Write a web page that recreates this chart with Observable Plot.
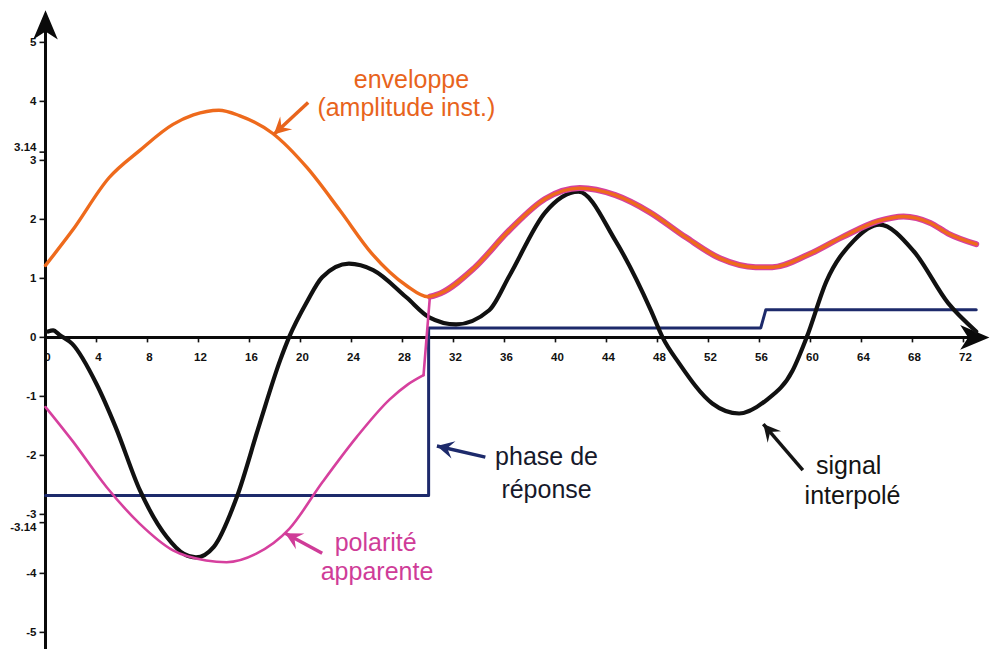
<!DOCTYPE html>
<html>
<head>
<meta charset="utf-8">
<script src="https://cdn.jsdelivr.net/npm/d3@7"></script>
<script src="https://cdn.jsdelivr.net/npm/@observablehq/plot@0.6"></script>
<style>
  html, body { margin: 0; padding: 0; background: #ffffff; }
  #chart svg { display: block; }
</style>
</head>
<body>
<div id="chart"></div>
<script>
// ---- data ----
const envX = [0, 2.1, 5.0, 7.4, 10.0, 11.6, 13.6, 15.2, 17.8, 20.5, 23.1, 25.6, 28.3, 30.0, 31.0, 33.6, 36.4, 39.2, 41.9, 44.7, 47.4, 50.2, 52.9, 55.7, 57.0, 59.8, 62.5, 65.3, 67.3, 69.4, 70.8, 73.0];
const envY = [1.22, 1.81, 2.71, 3.17, 3.61, 3.77, 3.85, 3.76, 3.46, 2.88, 2.15, 1.42, 0.88, 0.69, 0.75, 1.17, 1.82, 2.35, 2.53, 2.41, 2.12, 1.70, 1.34, 1.19, 1.19, 1.40, 1.70, 1.97, 2.05, 1.94, 1.76, 1.58];

const polX = [0, 2.1, 4.8, 7.4, 10.0, 12.6, 14.2, 16.5, 19.1, 21.7, 24.4, 27.0, 28.4, 29.65, 30.15, 31.0, 33.6, 36.4, 39.2, 41.9, 44.7, 47.4, 50.2, 52.9, 55.7, 57.0, 59.8, 62.5, 65.3, 67.3, 69.4, 70.8, 73.0];
const polY = [-1.18, -1.75, -2.54, -3.16, -3.61, -3.78, -3.81, -3.67, -3.25, -2.46, -1.69, -1.05, -0.80, -0.64, 0.69, 0.75, 1.17, 1.82, 2.35, 2.53, 2.41, 2.12, 1.70, 1.34, 1.19, 1.19, 1.40, 1.70, 1.97, 2.05, 1.94, 1.76, 1.58];

const sigX = [0.2, 0.6, 1.1, 2.1, 4.0, 5.5, 7.4, 9.5, 10.85, 11.8, 13.2, 15.0, 16.8, 18.4, 19.1, 20.5, 21.7, 23.8, 25.7, 28.3, 30.1, 32.2, 34.8, 36.4, 39.2, 41.8, 44.7, 47.5, 48.4, 49.7, 52.3, 54.4, 56.5, 58.6, 59.7, 61.25, 63.4, 65.4, 68.1, 70.8, 73.0];
const sigY = [0.10, 0.12, 0.04, -0.11, -0.79, -1.52, -2.59, -3.38, -3.67, -3.73, -3.55, -2.71, -1.46, -0.39, 0, 0.60, 1.02, 1.25, 1.14, 0.68, 0.34, 0.22, 0.46, 1.05, 2.12, 2.47, 1.64, 0.45, 0, -0.44, -1.12, -1.29, -1.07, -0.56, 0, 0.95, 1.64, 1.91, 1.46, 0.58, 0.10];

const phaseX = [0, 30.05, 30.05, 56.1, 56.5, 73.0];
const phaseY = [-2.68, -2.68, 0.16, 0.16, 0.47, 0.47];

const xTicks = [0, 4, 8, 12, 16, 20, 24, 28, 32, 36, 40, 44, 48, 52, 56, 60, 64, 68, 72];
const yTicks = [5, 4, 3, 2, 1, 0, -1, -2, -3, -4, -5];
const piTicks = [3.14, -3.14];
const piLabels = ["3.14", "-3.14"];

const notes = [
  {x: 28.7, y: 4.36, text: "enveloppe", color: "#e8641c"},
  {x: 28.3, y: 3.88, text: "(amplitude inst.)", color: "#e8641c"},
  {x: 39.3, y: -2.03, text: "phase de", color: "#17192b"},
  {x: 39.3, y: -2.58, text: "réponse", color: "#17192b"},
  {x: 63.0, y: -2.18, text: "signal", color: "#141414"},
  {x: 63.3, y: -2.68, text: "interpolé", color: "#141414"},
  {x: 25.9, y: -3.49, text: "polarité", color: "#cf3c98"},
  {x: 26.0, y: -3.98, text: "apparente", color: "#cf3c98"}
];
const pointers = [
  {x1: 20.6, y1: 3.98, x2: 17.9, y2: 3.44, color: "#e8641c"},
  {x1: 34.5, y1: -2.03, x2: 30.7, y2: -1.84, color: "#1d2a6b"},
  {x1: 59.4, y1: -2.25, x2: 56.3, y2: -1.47, color: "#141414"},
  {x1: 21.7, y1: -3.66, x2: 18.8, y2: -3.32, color: "#cf3c98"}
];

// ---- tables ----
const env = envX.map((x, i) => ({x, y: envY[i]}));
const pol = polX.map((x, i) => ({x, y: polY[i]}));
const sig = sigX.map((x, i) => ({x, y: sigY[i]}));
const phase = phaseX.map((x, i) => ({x, y: phaseY[i]}));
const piRows = piTicks.map((v, i) => ({v, label: piLabels[i]}));
const polBefore = pol.filter(d => d.x <= 29.65);
const polJump = pol.filter(d => d.x >= 29.65 && d.x <= 30.15);
const polAfter = pol.filter(d => d.x >= 30.15);

const W = 990, H = 649;
const xMin = -3.53, xMax = 74.12, yMin = -5.29, yMax = 5.71;
const kx = W / (xMax - xMin), ky = H / (yMax - yMin);
const headRotate = d => Math.atan2((d.x2 - d.x1) * kx, (d.y2 - d.y1) * ky) * 180 / Math.PI;

const stealth = {
  draw(ctx, size) {
    const r = Math.sqrt(size / Math.PI);
    ctx.moveTo(0, -r);
    ctx.lineTo(0.82 * r, 0.95 * r);
    ctx.lineTo(0, 0.42 * r);
    ctx.lineTo(-0.82 * r, 0.95 * r);
    ctx.closePath();
  }
};
const barb = {
  draw(ctx, size) {
    const L = Math.sqrt(size / Math.PI);
    ctx.moveTo(0, 0);
    ctx.lineTo(0.52 * L, L);
    ctx.lineTo(0, 0.62 * L);
    ctx.lineTo(-0.52 * L, L);
    ctx.closePath();
  }
};
const hTick = {draw(ctx) { ctx.moveTo(-6, 0); ctx.lineTo(0, 0); }};
const vTick = {draw(ctx) { ctx.moveTo(0, 1); ctx.lineTo(0, 5); }};

const font = "'Liberation Sans', Arial, sans-serif";
const labelStyle = {textAnchor: "end", fontSize: 11.5, fontWeight: "bold", fill: "#111"};
const smooth = "monotone-x";

const chart = Plot.plot({
  width: W,
  height: H,
  margin: 0,
  x: {domain: [xMin, xMax], axis: null},
  y: {domain: [yMin, yMax], axis: null},
  style: {background: "#ffffff", fontFamily: font},
  marks: [
    // tick marks and labels
    Plot.dot(yTicks.concat(piTicks), {x: 0, y: d => d, symbol: hTick, r: 4, stroke: "#111", strokeWidth: 1.6}),
    Plot.dot(xTicks, {x: d => d, y: 0, symbol: vTick, r: 4, stroke: "#111", strokeWidth: 1.6}),
    Plot.text(yTicks, {x: 0, y: d => d, text: d => String(d), dx: -9, ...labelStyle}),
    Plot.text(piRows.filter(d => d.v > 0), {x: 0, y: "v", text: "label", dx: -9, dy: -5, ...labelStyle}),
    Plot.text(piRows.filter(d => d.v < 0), {x: 0, y: "v", text: "label", dx: -9, dy: 5, ...labelStyle}),
    Plot.text(xTicks, {x: d => d, y: 0, text: d => String(d), dx: 2, dy: 20,
      fontSize: 11.5, fontWeight: "bold", fill: "#111"}),
    // axes
    Plot.ruleX([0], {y1: yMin, y2: 5.3, stroke: "#0a0a0a", strokeWidth: 3}),
    Plot.ruleY([0], {x1: 0, x2: 72.9, stroke: "#0a0a0a", strokeWidth: 3}),
    Plot.dot([0], {x: 0, y: 5.29, symbol: stealth, r: 15, fill: "#0a0a0a", stroke: "none"}),
    Plot.dot([0], {x: 72.86, y: 0, symbol: stealth, r: 15, rotate: 90, fill: "#0a0a0a", stroke: "none"}),
    // curves
    Plot.line(phase, {x: "x", y: "y", stroke: "#1d2a6b", strokeWidth: 3}),
    Plot.line(sig, {x: "x", y: "y", curve: smooth, stroke: "#111111", strokeWidth: 4.2}),
    Plot.line(polBefore, {x: "x", y: "y", curve: smooth, stroke: "#d6409e", strokeWidth: 2.6}),
    Plot.line(polJump, {x: "x", y: "y", stroke: "#d6409e", strokeWidth: 2.6}),
    Plot.line(polAfter, {x: "x", y: "y", curve: smooth, stroke: "#d6409e", strokeWidth: 6}),
    Plot.line(env, {x: "x", y: "y", curve: smooth, stroke: "#ee6a1c", strokeWidth: 3.4}),
    // annotation pointers (shaft + filled barbed head)
    Plot.link(pointers, {x1: "x1", y1: "y1", x2: "x2", y2: "y2", stroke: "color", strokeWidth: 3.5}),
    Plot.dot(pointers, {x: "x2", y: "y2", symbol: barb, r: 17, rotate: headRotate, fill: "color", stroke: "none"}),
    Plot.text(notes, {x: "x", y: "y", text: "text", fill: "color", fontSize: 25})
  ]
});
document.getElementById("chart").appendChild(chart);
</script>
</body>
</html>
